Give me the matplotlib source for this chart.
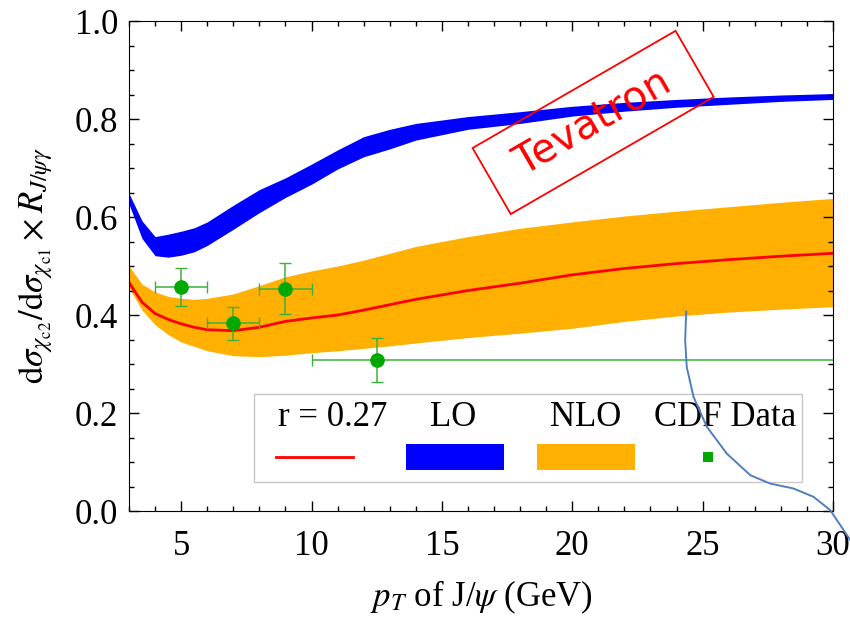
import numpy as np
import matplotlib
matplotlib.use('Agg')
from matplotlib import pyplot as plt
from matplotlib.patches import Rectangle
from matplotlib.lines import Line2D

# pT grid (GeV) on which the bands were read
pt = [3, 3.5, 4, 4.5, 5, 5.5, 6, 7, 8, 9, 10, 11, 12, 13, 14, 16, 18, 20, 22, 24, 26, 28, 30]

# LO band
lo_upper = [0.648, 0.592, 0.560, 0.565, 0.571, 0.578, 0.590, 0.624, 0.656, 0.680, 0.708,
            0.737, 0.764, 0.779, 0.791, 0.805, 0.815, 0.826, 0.834, 0.840, 0.845, 0.849, 0.852]
lo_lower = [0.626, 0.556, 0.521, 0.518, 0.522, 0.529, 0.542, 0.575, 0.609, 0.640, 0.667,
            0.698, 0.723, 0.739, 0.757, 0.779, 0.791, 0.806, 0.816, 0.824, 0.830, 0.836, 0.840]

# NLO band
nlo_upper = [0.500, 0.463, 0.447, 0.438, 0.434, 0.432, 0.434, 0.443, 0.460, 0.478, 0.490,
             0.500, 0.512, 0.526, 0.540, 0.560, 0.577, 0.590, 0.602, 0.612, 0.621, 0.630, 0.638]
nlo_lower = [0.455, 0.410, 0.380, 0.360, 0.345, 0.336, 0.327, 0.317, 0.315, 0.318, 0.323,
             0.327, 0.332, 0.337, 0.343, 0.354, 0.363, 0.373, 0.387, 0.398, 0.406, 0.412, 0.417]

# NLO with r = 0.27
r027 = [0.466, 0.426, 0.403, 0.391, 0.382, 0.375, 0.370, 0.368, 0.375, 0.387, 0.394,
        0.400, 0.410, 0.421, 0.432, 0.450, 0.465, 0.482, 0.495, 0.505, 0.513, 0.520, 0.526]

# CDF data
cdf_pt = [5, 7, 9, 12.5]
cdf_val = [0.457, 0.383, 0.454, 0.308]
cdf_err = [0.039, 0.034, 0.052, 0.045]
cdf_xlo = [1.0, 1.0, 1.0, 2.5]
cdf_xhi = [1.0, 1.0, 1.0, 18.0]

# stray curve drawn over the plot
stray_x = [24.37, 24.33, 24.39, 24.65, 25.16, 25.93, 26.83, 27.59, 28.48, 29.25, 29.89, 30.66]
stray_y = [0.407, 0.349, 0.294, 0.233, 0.172, 0.117, 0.073, 0.056, 0.046, 0.029, 0.002, -0.059]

plt.rcParams['font.family'] = ['Liberation Serif', 'DejaVu Serif']
plt.rcParams['mathtext.fontset'] = 'stix'
plt.rcParams['font.size'] = 25

fig = plt.figure(figsize=(8.5, 6.39), dpi=100)
ax = fig.add_axes([0.1518, 0.2003, 0.8282, 0.7668])

blue = '#0000ff'
orange = '#ffb000'
red = '#ff0000'
green = '#00a800'

ax.fill_between(pt, lo_lower, lo_upper, color=blue, lw=0)
ax.fill_between(pt, nlo_lower, nlo_upper, color=orange, lw=0)
ax.plot(pt, r027, color=red, lw=2.0)

ax.errorbar(cdf_pt, cdf_val, yerr=cdf_err, xerr=[cdf_xlo, cdf_xhi], fmt='o',
            color=green, ecolor='#3cb03c', elinewidth=1.1, capsize=4.5,
            markersize=9.5)

ax.text(20.8, 0.793, ' Tevatron ', color=red, fontsize=29, family='DejaVu Sans',
        rotation=30, ha='center', va='center', rotation_mode='anchor',
        bbox=dict(boxstyle='square,pad=0.45', fc='none', ec=red, lw=1.3))

# legend drawn as a small table
ax.add_patch(Rectangle((0.1776, 0.0592), 0.7784, 0.1796, transform=ax.transAxes,
                       fc='white', ec='#c8c8c8', lw=1.0, zorder=6))
ty = 0.1735
ax.text(0.2116, ty, 'r = 0.27', transform=ax.transAxes, ha='left', va='baseline', zorder=7)
ax.text(0.461, ty, 'LO', transform=ax.transAxes, ha='center', va='baseline', zorder=7)
ax.text(0.649, ty, 'NLO', transform=ax.transAxes, ha='center', va='baseline', zorder=7)
ax.text(0.847, ty, 'CDF Data', transform=ax.transAxes, ha='center', va='baseline', zorder=7)
ax.add_line(Line2D([0.209, 0.318], [0.111, 0.111], transform=ax.transAxes,
                   color=red, lw=2.0, zorder=7))
ax.add_patch(Rectangle((0.393, 0.084), 0.140, 0.053, transform=ax.transAxes,
                       fc=blue, lw=0, zorder=7))
ax.add_patch(Rectangle((0.579, 0.084), 0.140, 0.053, transform=ax.transAxes,
                       fc=orange, lw=0, zorder=7))
ax.add_patch(Rectangle((0.816, 0.101), 0.013, 0.019, transform=ax.transAxes,
                       fc=green, lw=0, zorder=7))

ax.plot(stray_x, stray_y, color='#4f7fbf', lw=1.4, clip_on=False, zorder=8)

ax.set_xlim(3, 30)
ax.set_ylim(0, 1.0)
ax.set_xticks([5, 10, 15, 20, 25, 30])
ax.set_xticks(np.arange(3, 31, 1), minor=True)
ax.set_yticks([0.0, 0.2, 0.4, 0.6, 0.8, 1.0])
ax.set_yticks(np.arange(0, 1.001, 0.05), minor=True)
ax.set_yticklabels(['0.0', '0.2', '0.4', '0.6', '0.8', '1.0'])
ax.tick_params(which='both', direction='in', top=True, right=True, width=1.0)
ax.tick_params(which='major', length=7, labelsize=25)
ax.tick_params(which='minor', length=3.5)
ax.tick_params(axis='x', pad=14)
ax.tick_params(axis='y', pad=8)

ax.set_xlabel(r'$p_T$ of J/$\psi$ (GeV)', fontsize=25, labelpad=11)
ax.set_ylabel(r'$\mathrm{d}\sigma_{\chi_{\mathrm{c2}}}/\mathrm{d}\sigma_{\chi_{\mathrm{c1}}}'
              r'\times R_{J/\psi\gamma}$', fontsize=25, labelpad=14)

fig.savefig('out.png', dpi=100)
